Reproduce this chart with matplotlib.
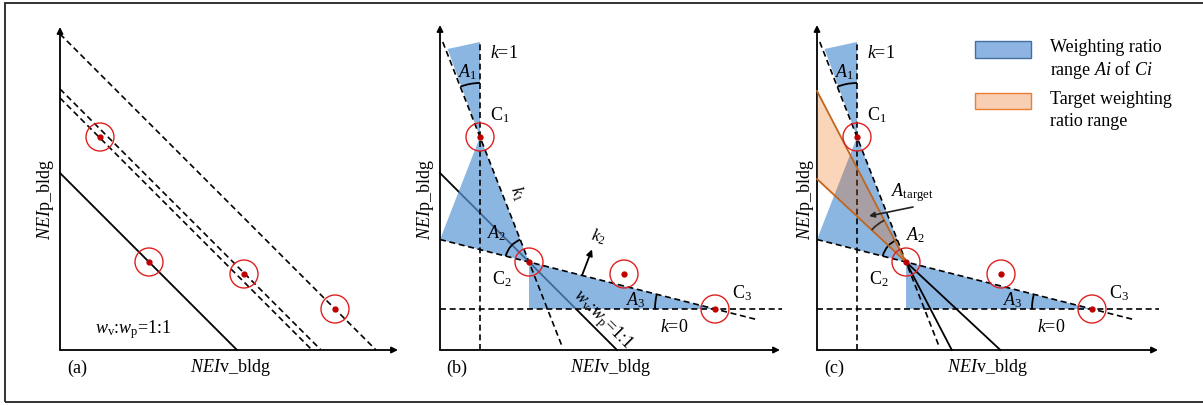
import numpy as np
import matplotlib.pyplot as plt
from matplotlib.patches import Circle, Polygon, Arc, Rectangle

plt.rcParams['font.family'] = 'Liberation Serif'
plt.rcParams['mathtext.fontset'] = 'custom'
plt.rcParams['mathtext.rm'] = 'Liberation Serif'
plt.rcParams['mathtext.it'] = 'Liberation Serif:italic'

# candidate designs (NEIv_bldg, NEIp_bldg) in drawing units
nei_v = [40, 89, 184, 275]
nei_p = [213, 88, 76, 41]
# w_v:w_p = 1:1 iso-lines of panel (a), given by their intercepts
iso_solid = [177]
iso_dashed = [252, 261, 316]
# target weighting lines of panel (c), y-intercepts (both pass through C2)
target_icpt = [259, 171]

BLUE, BLUE_A = '#5C97D6', 0.7
ORANGE, ORANGE_A = '#F06400', 0.27
EDGE_OR = '#C0661F'
RED = '#E02020'
DASH = (0, (3.6, 2.2))
FS = 13

W, H = 1203, 405
fig = plt.figure(figsize=(W / 100, H / 100), dpi=100)
fig.add_artist(Rectangle((5 / W, 3 / H), 1.0, 399 / H, transform=fig.transFigure,
                         fill=False, ec='#222222', lw=1.3))


def panel(ox, oy=350):
    ax = fig.add_axes([(ox - 60) / W, (H - oy - 55) / H, 450 / W, 385 / H])
    ax.set_xlim(-60, 390)
    ax.set_ylim(-55, 330)
    ax.axis('off')
    return ax


def frame(ax, xend, ytop, tag, ylab_x=-14):
    kw = dict(arrowstyle='-|>', color='k', lw=1.3, mutation_scale=9, shrinkA=0, shrinkB=0)
    ax.annotate('', xy=(xend, 0), xytext=(0, 0), arrowprops=kw)
    ax.annotate('', xy=(0, ytop), xytext=(0, 0), arrowprops=kw)
    ax.text(170, -18, r'$\mathit{NEI}$v_bldg', ha='center', va='center', fontsize=FS)
    ax.text(ylab_x, 150, r'$\mathit{NEI}$p_bldg', ha='center', va='center',
            rotation=90, fontsize=FS)
    ax.text(17, -18, tag, ha='center', va='center', fontsize=FS)


def candidates(ax):
    for v, p in zip(nei_v, nei_p):
        ax.add_patch(Circle((v, p), 14, fill=False, ec=RED, lw=1.0, zorder=6))
    ax.plot(nei_v, nei_p, 'o', color='#C00000', ms=3.5, zorder=7)


def ratio_ranges(ax, a2_pos):
    c1 = (nei_v[0], nei_p[0])
    c2 = (nei_v[1], nei_p[1])
    c3 = (nei_v[3], nei_p[3])
    s1 = (c2[1] - c1[1]) / (c2[0] - c1[0])
    s2 = (c3[1] - c2[1]) / (c3[0] - c2[0])
    top = 308
    dk = dict(color='k', lw=1.2, ls=DASH, zorder=3)
    y1 = np.array([top, 3])
    ax.plot(c1[0] + (y1 - c1[1]) / s1, y1, **dk)
    x2 = np.array([0, 317])
    ax.plot(x2, c2[1] + s2 * (x2 - c2[0]), **dk)
    ax.plot([c1[0], c1[0]], [0, top], **dk)
    ax.plot([0, 342], [c3[1], c3[1]], **dk)

    k2_y0 = c2[1] - s2 * c2[0]
    polys = [[c1, (c1[0] + (301 - c1[1]) / s1 + 2, 301), (c1[0], top)],
             [c1, (0, k2_y0), c2],
             [c2, (c2[0], c3[1]), c3]]
    for pts in polys:
        ax.add_patch(Polygon(pts, closed=True, fc=BLUE, alpha=BLUE_A, ec='none', zorder=2))

    ang1 = np.degrees(np.arctan2(-s1, -1))
    ang2 = np.degrees(np.arctan2(-s2, -1))
    ak = dict(color='k', lw=1.3, zorder=5)
    ax.add_patch(Arc(c1, 108, 108, theta1=90, theta2=ang1, **ak))
    ax.add_patch(Arc(c2, 48, 48, theta1=ang1, theta2=ang2, **ak))
    ax.add_patch(Arc(c3, 120, 120, theta1=ang2, theta2=180, **ak))

    ax.text(28, 278, r'$A_{\mathit{1}}$', ha='center', va='center', fontsize=FS)
    ax.text(a2_pos[0], a2_pos[1], r'$A_{\mathit{2}}$', ha='center', va='center', fontsize=FS)
    ax.text(196, 50, r'$A_{\mathit{3}}$', ha='center', va='center', fontsize=FS)
    ax.text(c1[0] + 10, 297, r'$k$=1', ha='left', va='center', fontsize=FS)
    ax.text(c1[0] + 10, c1[1] + 22, r'C$_{\mathrm{1}}$', ha='left', va='center', fontsize=FS)
    ax.text(c2[0] - 37, c2[1] - 17, r'C$_{\mathrm{2}}$', ha='left', va='center', fontsize=FS)
    ax.text(c3[0] + 17, c3[1] + 16, r'C$_{\mathrm{3}}$', ha='left', va='center', fontsize=FS)
    ax.text(c3[0] - 55, 22, r'$k$=0', ha='left', va='center', fontsize=FS)
    return c2, s1, s2


# ---- (a)
ax = panel(60)
frame(ax, 338, 323, '(a)', -15)
for c in iso_solid:
    ax.plot([0, c], [c, 0], color='k', lw=1.3)
for c in iso_dashed:
    ax.plot([0, c], [c, 0], color='k', lw=1.2, ls=DASH)
candidates(ax)
ax.text(73, 20, r'$w_{\mathrm{v}}$:$w_{\mathrm{p}}$=1:1', ha='center', va='center', fontsize=FS)

# ---- (b)
ax = panel(440)
frame(ax, 340, 325, '(b)')
for c in iso_solid:
    ax.plot([0, c], [c, 0], color='k', lw=1.3, zorder=1)
c2, s1, s2 = ratio_ranges(ax, (57, 117))
candidates(ax)
ax.text(77, 157, r'$k_{\mathit{1}}$', ha='center', va='center', fontsize=FS - 1,
        rotation=np.degrees(np.arctan(s1)))
x0 = 142
y0 = c2[1] + s2 * (x0 - c2[0])
ax.annotate('', xy=(x0 + 10, y0 + 26), xytext=(x0, y0),
            arrowprops=dict(arrowstyle='-|>', color='k', lw=1.3, mutation_scale=9,
                            shrinkA=0, shrinkB=0), zorder=5)
ax.text(158, 113, r'$k_{\mathit{2}}$', ha='center', va='center', fontsize=FS - 1, rotation=-14)
ax.text(162, 30, r'$w_{\mathrm{v}}$:$w_{\mathrm{p}}$=1:1', ha='center', va='center',
        fontsize=FS, rotation=-45)

# ---- (c)
ax = panel(817)
frame(ax, 341, 325, '(c)', -12)
c2, s1, s2 = ratio_ranges(ax, (99, 115))
candidates(ax)
ax.add_patch(Polygon([(0, target_icpt[0]), c2, (0, target_icpt[1])], closed=True,
                     fc=ORANGE, alpha=ORANGE_A, ec='none', zorder=4))
angs = []
for icpt in target_icpt:
    s = (c2[1] - icpt) / c2[0]
    ax.plot([0, c2[0]], [icpt, c2[1]], color=EDGE_OR, lw=1.3, zorder=5)
    ax.plot([c2[0], c2[0] - c2[1] / s], [c2[1], 0], color='k', lw=1.3, zorder=5)
    angs.append(np.degrees(np.arctan2(icpt - c2[1], -c2[0])))
ax.add_patch(Arc(c2, 94, 94, theta1=min(angs), theta2=max(angs), color='#3a2a20', lw=1.3, zorder=6))
ax.annotate('', xy=(52, 134), xytext=(96, 143),
            arrowprops=dict(arrowstyle='-|>', color='#222222', lw=1.2, mutation_scale=8,
                            shrinkA=0, shrinkB=0), zorder=6)
ax.text(74, 157, r'$A_{\mathrm{target}}$', ha='left', va='center', fontsize=FS)

# legend
ax.add_patch(Rectangle((158, 292), 56, 17, fc='#8DB4E2', ec='#41719C', lw=1.0))
ax.add_patch(Rectangle((158, 241), 56, 16, fc='#F8CFB2', ec='#ED7D31', lw=1.0))
ax.text(233, 302, 'Weighting ratio', ha='left', va='center', fontsize=FS)
ax.text(233, 280, r'range $Ai$ of $Ci$', ha='left', va='center', fontsize=FS)
ax.text(233, 250, 'Target weighting', ha='left', va='center', fontsize=FS)
ax.text(233, 228, 'ratio range', ha='left', va='center', fontsize=FS)

fig.savefig('out.png', dpi=100)
